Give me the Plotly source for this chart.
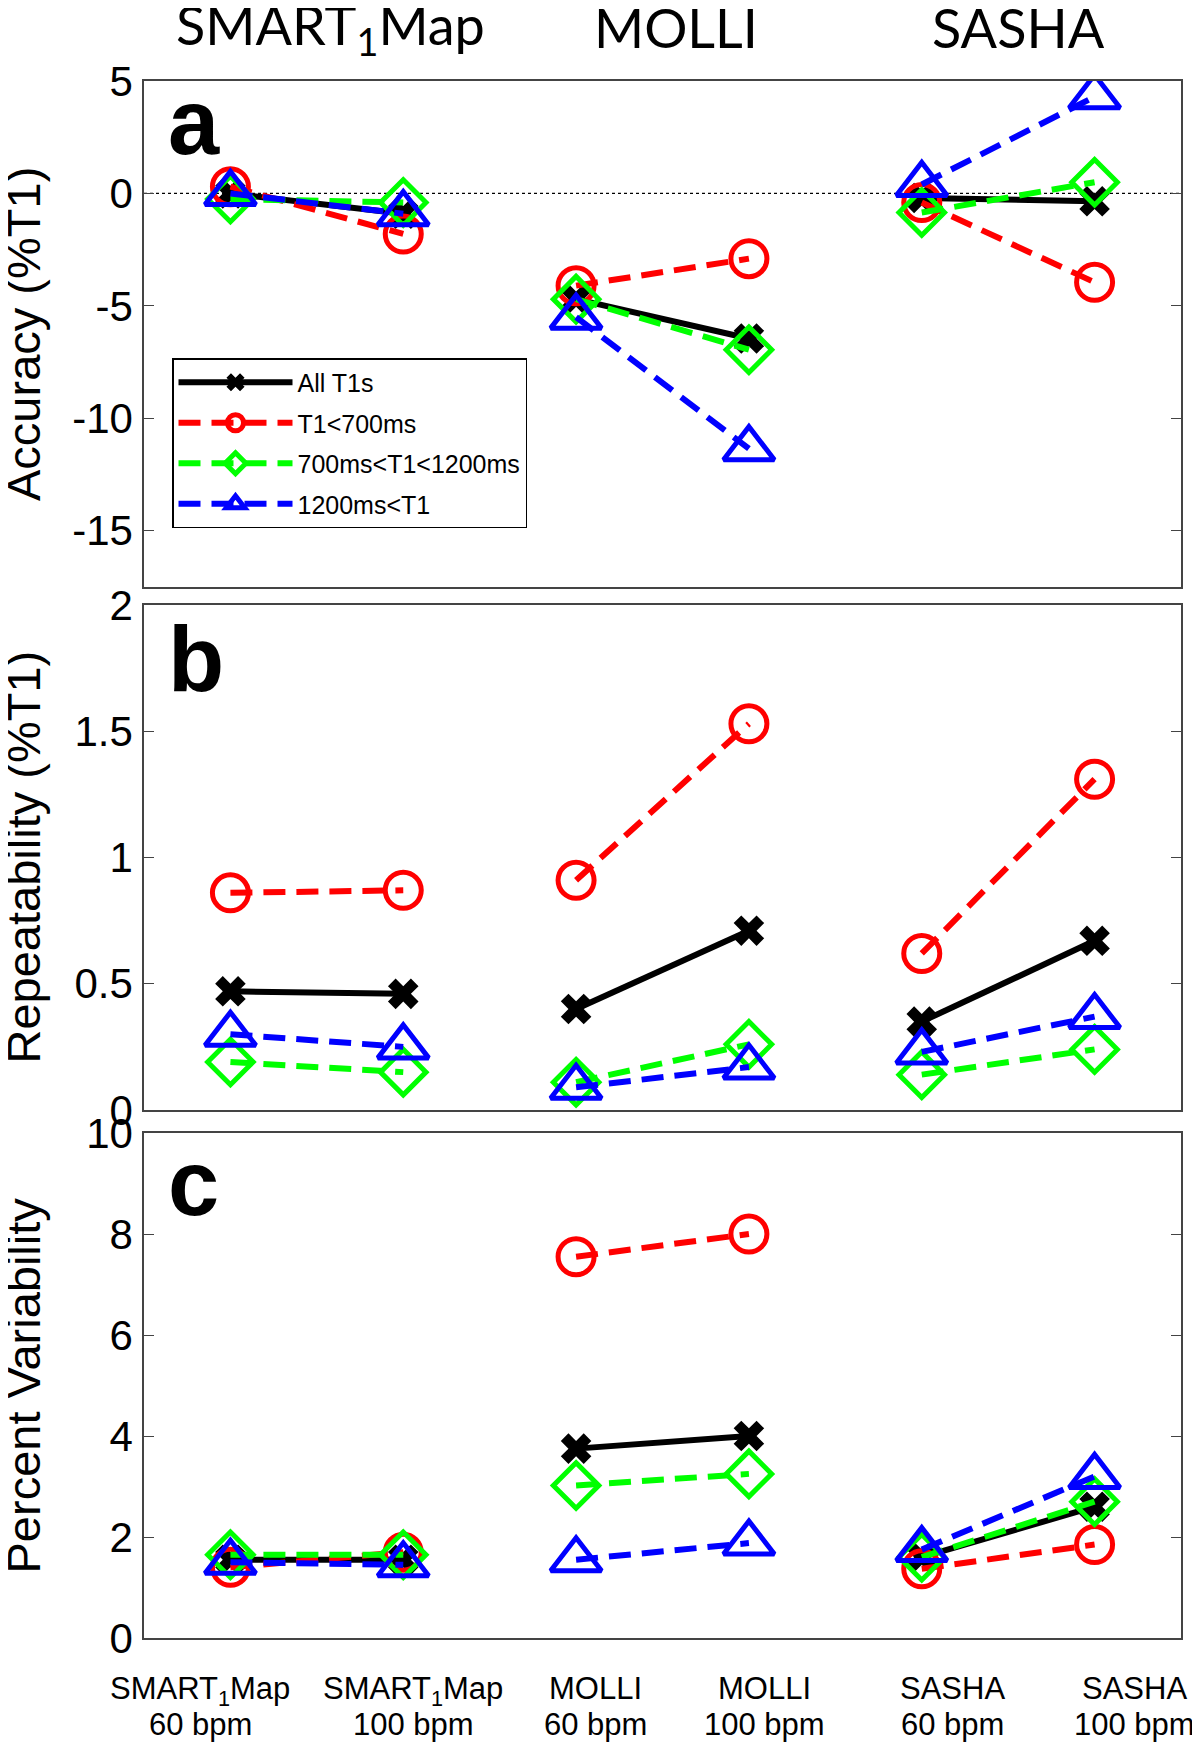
import plotly.graph_objects as go

# ---------------- data ----------------
conditions = ["SMART1Map 60 bpm", "SMART1Map 100 bpm", "MOLLI 60 bpm",
              "MOLLI 100 bpm", "SASHA 60 bpm", "SASHA 100 bpm"]
xpos = [1, 2, 3, 4, 5, 6]
series_names = ["All T1s", "T1&lt;700ms", "700ms&lt;T1&lt;1200ms", "1200ms&lt;T1"]

acc_all = [0.0, -0.9, -4.7, -6.45, -0.2, -0.35]
acc_lt700 = [0.3, -1.8, -4.1, -2.9, -0.4, -3.95]
acc_700_1200 = [-0.25, -0.4, -4.7, -6.95, -0.85, 0.5]
acc_gt1200 = [0.0, -0.9, -5.5, -11.35, 0.4, 4.3]

rep_all = [0.47, 0.46, 0.40, 0.71, 0.35, 0.67]
rep_lt700 = [0.86, 0.87, 0.91, 1.53, 0.62, 1.31]
rep_700_1200 = [0.19, 0.15, 0.11, 0.26, 0.14, 0.24]
rep_gt1200 = [0.30, 0.25, 0.09, 0.17, 0.23, 0.37]

var_all = [1.55, 1.55, 3.75, 4.0, 1.6, 2.6]
var_lt700 = [1.4, 1.7, 7.55, 8.0, 1.37, 1.85]
var_700_1200 = [1.65, 1.65, 3.02, 3.25, 1.6, 2.7]
var_gt1200 = [1.5, 1.45, 1.55, 1.88, 1.75, 3.2]

method_titles = ["SMART<sub>1</sub>Map", "MOLLI", "SASHA"]
xtick_line1 = ["SMART<sub>1</sub>Map", "SMART<sub>1</sub>Map", "MOLLI", "MOLLI", "SASHA", "SASHA"]
xtick_line2 = ["60 bpm", "100 bpm", "60 bpm", "100 bpm", "60 bpm", "100 bpm"]
panel_letters = ["a", "b", "c"]
ytitles = ["Accuracy (%T1)", "Repeatability (%T1)", "Percent Variability"]

# ---------------- layout constants ----------------
OFF = 8                      # browser body margin
W, H = 1200 - OFF, 1744 - OFF
ML, MR, MT, MB = 144 - OFF, 19, 81 - OFF, 106
PH = H - MT - MB
PW = W - ML - MR


def py(p):
    """screen pixel row (reference coords) -> paper y"""
    return (H - MB - (p - OFF)) / PH


def px_(p):
    """screen pixel column (reference coords) -> paper x"""
    return (p - OFF - ML) / PW


domains = [[py(587), 1.0], [py(1110), py(605)], [0.0, py(1133)]]

styles = [
    dict(color="black", dash="solid", symbol="x", size=27, lw=0),
    dict(color="#FF0000", dash="22px,11px", symbol="circle-open", size=36, lw=5),
    dict(color="#00FF00", dash="22px,11px", symbol="diamond-open", size=35, lw=5),
    dict(color="#0000FF", dash="22px,11px", symbol="triangle-up-open", size=44, lw=5),
]

panels = [
    [acc_all, acc_lt700, acc_700_1200, acc_gt1200],
    [rep_all, rep_lt700, rep_700_1200, rep_gt1200],
    [var_all, var_lt700, var_700_1200, var_gt1200],
]


def segmented(xs, ys):
    ox, oy = [], []
    for i in range(0, len(xs), 2):
        ox += [xs[i], xs[i + 1], None]
        oy += [ys[i], ys[i + 1], None]
    return ox, oy


fig = go.Figure()
for pi, series in enumerate(panels):
    xa = "x" if pi == 0 else f"x{pi+1}"
    ya = "y" if pi == 0 else f"y{pi+1}"
    for si, ys in enumerate(series):
        st = styles[si]
        sx, sy = segmented(xpos, ys)
        fig.add_trace(go.Scatter(
            x=sx, y=sy, xaxis=xa, yaxis=ya, mode="lines+markers",
            name=series_names[si], legendgroup=f"g{si}", showlegend=(pi == 0),
            line=dict(color=st["color"], width=6, dash=st["dash"]),
            marker=dict(symbol=st["symbol"], size=st["size"], color=st["color"],
                        line=dict(color=st["color"], width=st["lw"])),
            connectgaps=False, hoverinfo="skip",
        ))

tickfont = dict(family="Liberation Sans, Arial", size=42, color="black")
yticks = [
    ([-15, -10, -5, 0, 5], ["-15", "-10", "-5", "0", "5"], [-17.5, 5]),
    ([0, 0.5, 1, 1.5, 2], ["0", "0.5", "1", "1.5", "2"], [0, 2]),
    ([0, 2, 4, 6, 8, 10], ["0", "2", "4", "6", "8", "10"], [0, 10]),
]

layout = dict(
    width=W, height=H, paper_bgcolor="white", plot_bgcolor="white",
    margin=dict(l=ML, r=MR, t=MT, b=MB),
    showlegend=True,
    legend=dict(x=px_(172), y=py(358), xanchor="left", yanchor="top",
                bgcolor="white", bordercolor="black", borderwidth=1.5,
                font=dict(family="Liberation Sans, Arial", size=25, color="black"),
                itemwidth=114, tracegroupgap=5, itemsizing="trace"),
)
for pi in range(3):
    sfx = "" if pi == 0 else str(pi + 1)
    tv, tt, rng = yticks[pi]
    layout[f"xaxis{sfx}"] = dict(domain=[0, 1], range=[0.5, 6.5], anchor=f"y{sfx}",
                                 showticklabels=False, ticks="", showgrid=False,
                                 zeroline=False, showline=True, mirror=True,
                                 linecolor="#444", linewidth=1.5)
    layout[f"yaxis{sfx}"] = dict(domain=domains[pi], range=rng, anchor=f"x{sfx}",
                                 tickvals=tv, ticktext=tt, tickfont=tickfont,
                                 ticks="inside", ticklen=10, tickcolor="#444",
                                 showgrid=False, zeroline=False, showline=True,
                                 mirror="ticks", linecolor="#444", linewidth=1.5,
                                 ticklabelstandoff=1)
fig.update_layout(**layout)

# dotted zero line in panel a
fig.add_shape(type="line", xref="x domain", yref="y", x0=0, x1=1, y0=0, y1=0,
              line=dict(color="black", width=1.2, dash="dot"), layer="below")

# method titles on top
title_x = [1.58, 3.58, 5.56]
title_bottom = [66, 62, 62]
for t, xx, yb in zip(method_titles, title_x, title_bottom):
    fig.add_annotation(text=t, x=xx, xref="x", y=py(yb), yref="paper",
                       xanchor="center", yanchor="bottom", showarrow=False,
                       font=dict(family="Lato", size=54, color="black"))

# bottom category labels (two lines each)
xlabel_pos = [0.824, 2.057, 3.11, 4.09, 5.18, 6.23]
for t1, t2, xx in zip(xtick_line1, xtick_line2, xlabel_pos):
    fig.add_annotation(text=t1, x=xx, xref="x3", y=py(1669), yref="paper",
                       xanchor="center", yanchor="top", showarrow=False,
                       font=dict(family="Liberation Sans, Arial", size=31, color="black"))
    fig.add_annotation(text=t2, x=xx, xref="x3", y=py(1705), yref="paper",
                       xanchor="center", yanchor="top", showarrow=False,
                       font=dict(family="Liberation Sans, Arial", size=31, color="black"))

# y-axis titles
for pi in range(3):
    d = domains[pi]
    fig.add_annotation(text=ytitles[pi], x=px_(23), xref="paper",
                       y=(d[0] + d[1]) / 2, yref="paper", textangle=-90,
                       xanchor="center", yanchor="middle", showarrow=False,
                       font=dict(family="Liberation Sans, Arial", size=47, color="black"))

# panel letters
letter_bottom = [175, 712, 1236]
for pi in range(3):
    fig.add_annotation(text=panel_letters[pi], x=px_(166), xref="paper",
                       y=py(letter_bottom[pi]), yref="paper",
                       xanchor="left", yanchor="bottom", showarrow=False,
                       font=dict(family="Liberation Sans, Arial", size=92,
                                 color="black", weight="bold"))

fig.write_html("out.html")
